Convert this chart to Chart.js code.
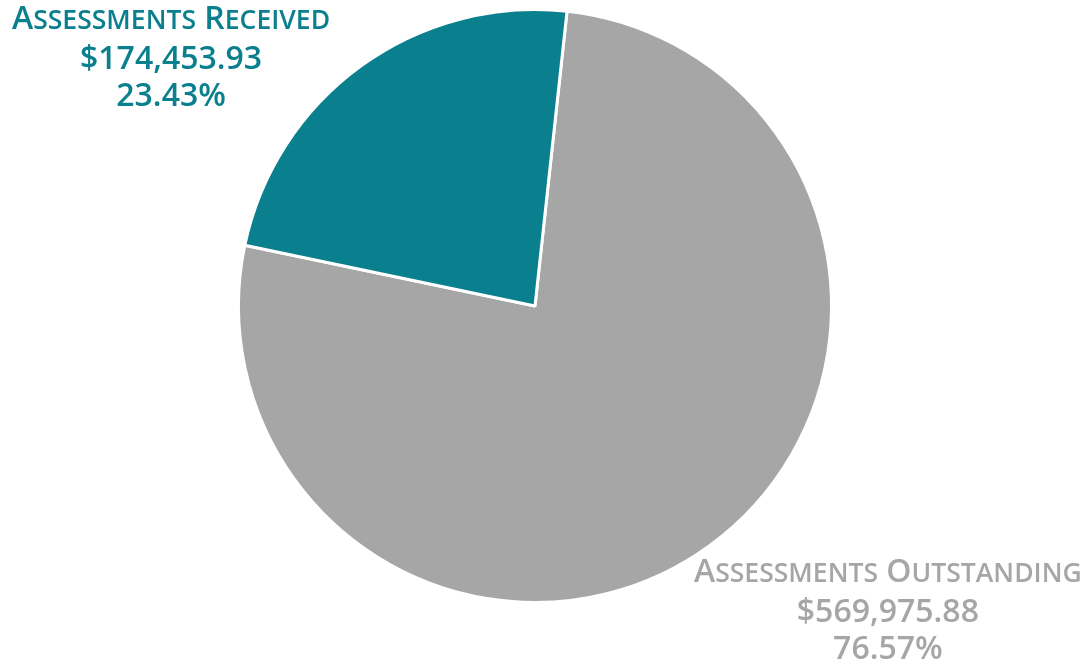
<!DOCTYPE html>
<html>
<head>
<meta charset="utf-8">
<script src="https://cdn.jsdelivr.net/npm/chart.js@4.4.1/dist/chart.umd.min.js"></script>
<style>
  html, body { margin: 0; padding: 0; background: #fff; }
  #wrap { position: relative; width: 1089px; height: 664px; }
  .lbl {
    position: absolute;
    font-family: "Open Sans", sans-serif;
    font-weight: 600;
    font-size: 32px;
    line-height: 37px;
    text-align: center;
    white-space: nowrap;
  }
  .sc { font-size: 0.83em; text-transform: uppercase; }
</style>
</head>
<body>
<div id="wrap">
  <canvas id="pieChart" width="1089" height="664"></canvas>
</div>
<script>
// Slices, clockwise from the top
const categories = ['Assessments Outstanding', 'Assessments Received'];
const amounts = [569975.88, 174453.93];
const colors = ['#a6a6a6', '#0a7f8e'];

// Label block centres (x) and top (y) for each slice
const labelSpots = [
    { x: 888, y: 551 },
    { x: 171, y: -2 }
];

const total = amounts.reduce((a, b) => a + b, 0);

function money(v) {
    return '$' + v.toLocaleString('en-US', { minimumFractionDigits: 2, maximumFractionDigits: 2 });
}

// small caps by hand: first letter full size, the rest shrunk and upper-cased
function smallCaps(text) {
    return text.split(' ')
        .map(w => w[0] + '<span class="sc">' + w.slice(1) + '</span>')
        .join(' ');
}

// Put the name / amount / share text next to each slice
const wrap = document.getElementById('wrap');
categories.forEach((name, i) => {
    const div = document.createElement('div');
    div.className = 'lbl';
    div.style.color = colors[i];
    div.innerHTML = smallCaps(name) + '<br>' + money(amounts[i]) + '<br>' +
        (amounts[i] / total * 100).toFixed(2) + '%';
    wrap.appendChild(div);
    div.style.left = (labelSpots[i].x - div.offsetWidth / 2) + 'px';
    div.style.top = labelSpots[i].y + 'px';
});

// Outstanding starts a little right of twelve o'clock
const startAngle = 6.2;

const ctx = document.getElementById('pieChart').getContext('2d');
new Chart(ctx, {
    type: 'pie',
    data: {
        labels: categories,
        datasets: [{
            data: amounts,
            backgroundColor: colors,
            borderColor: '#ffffff',
            borderWidth: 3
        }]
    },
    options: {
        responsive: false,
        animation: false,
        rotation: startAngle,
        layout: { padding: { left: 237, right: 256, top: 8, bottom: 60 } },
        plugins: {
            legend: { display: false },
            tooltip: { enabled: false }
        }
    }
});
</script>
</body>
</html>
